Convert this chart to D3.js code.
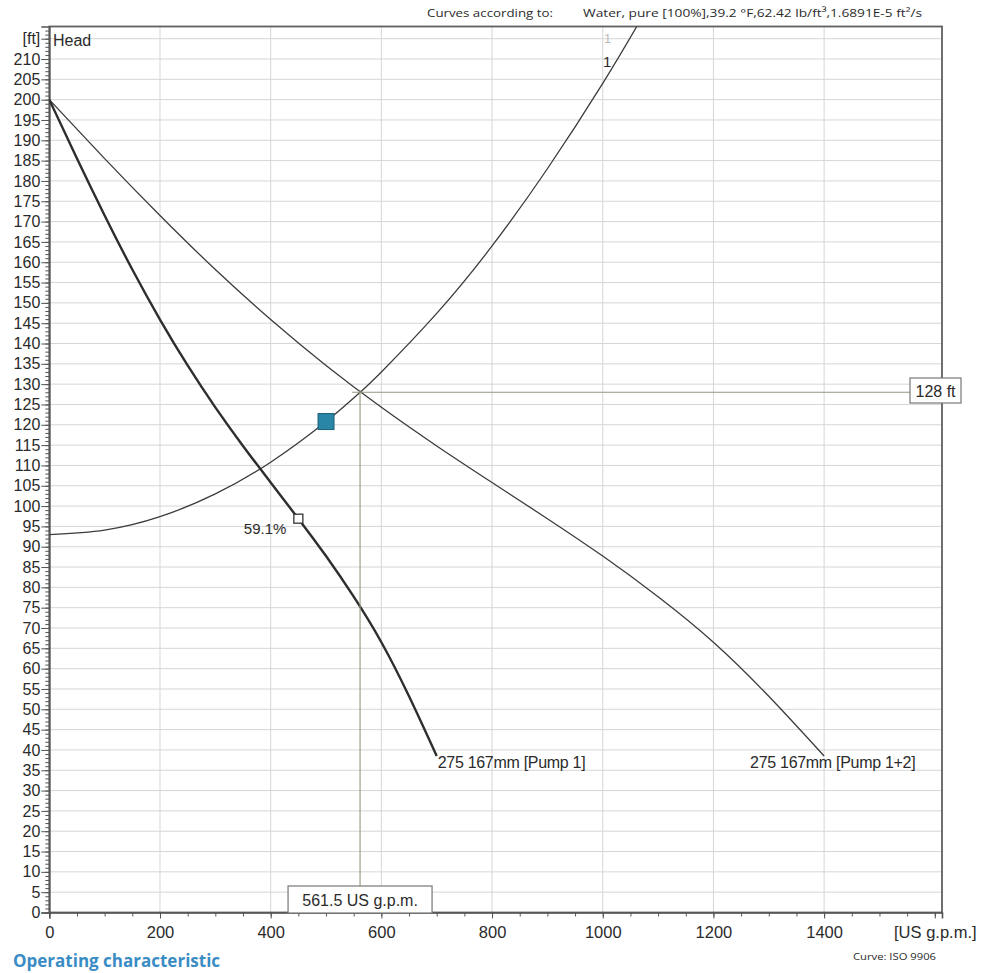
<!DOCTYPE html>
<html>
<head>
<meta charset="utf-8">
<script src="https://cdn.jsdelivr.net/npm/d3@7"></script>
<style>
  body { margin: 0; background: #fff; }
  svg { display: block; }
  text { font-family: "Liberation Sans", Arial, sans-serif; fill: #2b2b2b; }
</style>
</head>
<body>
<svg id="chart" width="981" height="973"></svg>
<script>
// pump curve, single pump (US g.p.m. / ft)
const pump1Flow = [0, 50, 100, 150, 200, 250, 300, 350, 400, 450, 500, 550, 600, 650, 700];
const pump1Head = [200, 185.5, 171.5, 158.2, 145.9, 134.6, 124.3, 114.8, 105.8, 96.9, 87.7, 77.7, 66.5, 53.2, 38.5];

// two pumps in parallel
const pump12Flow = [0, 100, 200, 300, 400, 500, 600, 700, 800, 900, 1000, 1100, 1200, 1300, 1400];
const pump12Head = [200, 185.5, 171.5, 158.2, 145.9, 134.6, 124.3, 114.8, 105.8, 96.9, 87.7, 77.7, 66.5, 53.2, 38.5];

// system curve "1"
const sysFlow = [0, 100, 200, 300, 400, 500, 561.5, 600, 700, 800, 900, 1000, 1070];
const sysHead = [93, 94.1, 97.4, 103, 110.8, 120.8, 128, 133, 147.4, 164, 183, 204, 220];

// duty point / markers
const duty = { flow: 561.5, head: 128 };
const opPoint = { flow: 500, head: 120.8 };
const effPoint = { flow: 450, head: 96.9, label: "59.1%" };

const flowLabels = [0, 200, 400, 600, 800, 1000, 1200, 1400];
const headLabels = d3.range(0, 211, 5);

const svg = d3.select("#chart");
const plotL = 49.3, plotR = 942, plotT = 26.5, plotB = 912.5;

const x = d3.scaleLinear([0, 1613], [plotL, plotR]);
const y = d3.scaleLinear([0, 218], [plotB, plotT]);

// header
svg.append("text").attr("x", 427).attr("y", 17).attr("font-size", 11.5)
  .attr("textLength", 126).attr("lengthAdjust", "spacingAndGlyphs")
  .style("font-family", "'Open Sans', sans-serif")
  .text("Curves according to:");
svg.append("text").attr("x", 583).attr("y", 17).attr("font-size", 11.5)
  .attr("textLength", 339).attr("lengthAdjust", "spacingAndGlyphs")
  .style("font-family", "'Open Sans', sans-serif")
  .text("Water, pure [100%],39.2 °F,62.42 lb/ft³,1.6891E-5 ft²/s");

// grid
const grid = svg.append("g").attr("stroke", "#d6d6d6").attr("stroke-width", 1);
grid.selectAll("line.h").data(d3.range(5, 216, 5)).join("line")
  .attr("x1", plotL).attr("x2", plotR)
  .attr("y1", d => y(d)).attr("y2", d => y(d));
grid.selectAll("line.v").data([200, 400, 600, 800, 1000, 1200, 1400]).join("line")
  .attr("y1", plotT).attr("y2", plotB)
  .attr("x1", d => x(d)).attr("x2", d => x(d));

// frame
svg.append("rect").attr("x", plotL).attr("y", plotT)
  .attr("width", plotR - plotL).attr("height", plotB - plotT)
  .attr("fill", "none").attr("stroke", "#606060").attr("stroke-width", 1.8);

// axes
const yMinor = svg.append("g").attr("transform", `translate(${plotL},0)`)
  .call(d3.axisLeft(y).tickValues(d3.range(0, 218, 1)).tickSize(4).tickFormat(""));
yMinor.select(".domain").remove();
const yAxis = svg.append("g").attr("transform", `translate(${plotL},0)`)
  .call(d3.axisLeft(y).tickValues(headLabels.concat([215])).tickSize(8).tickPadding(1)
    .tickFormat(d => d === 215 ? "[ft]" : d));
yAxis.selectAll("text").attr("font-size", 16).attr("font-family", null).attr("fill", "#2b2b2b");

const xMinor = svg.append("g").attr("transform", `translate(0,${plotB})`)
  .call(d3.axisBottom(x).tickValues(d3.range(0, 1601, 50)).tickSize(4).tickFormat(""));
xMinor.select(".domain").remove();
const xAxis = svg.append("g").attr("transform", `translate(0,${plotB})`)
  .call(d3.axisBottom(x).tickValues(flowLabels.concat([1600])).tickSize(6).tickPadding(8)
    .tickFormat(d => d === 1600 ? "[US g.p.m.]" : d));
xAxis.selectAll("text").attr("font-size", 16.5).attr("font-family", null).attr("fill", "#2b2b2b");

svg.selectAll(".tick line").attr("stroke", "#555");
svg.selectAll(".domain").attr("stroke", "#555").attr("stroke-width", 1.6);

svg.append("text").attr("x", 53).attr("y", 46).attr("font-size", 16).text("Head");

// curves
svg.append("clipPath").attr("id", "plot").append("rect")
  .attr("x", plotL).attr("y", plotT).attr("width", plotR - plotL).attr("height", plotB - plotT);
const curves = svg.append("g").attr("clip-path", "url(#plot)").attr("fill", "none");

const line = d3.line().x(d => x(d[0])).y(d => y(d[1])).curve(d3.curveNatural);

curves.append("path").datum(d3.zip(sysFlow, sysHead))
  .attr("d", line).attr("stroke", "#3c3c3c").attr("stroke-width", 1.3);
curves.append("path").datum(d3.zip(pump12Flow, pump12Head))
  .attr("d", line).attr("stroke", "#3c3c3c").attr("stroke-width", 1.3);
curves.append("path").datum(d3.zip(pump1Flow, pump1Head))
  .attr("d", line).attr("stroke", "#2e2e2e").attr("stroke-width", 2.4);

// duty point lines
const dutyColor = "#8f9a7c";
svg.append("line").attr("x1", x(duty.flow) - 8).attr("x2", 910)
  .attr("y1", y(duty.head)).attr("y2", y(duty.head))
  .attr("stroke", dutyColor).attr("stroke-width", 1.1);
svg.append("line").attr("x1", x(duty.flow)).attr("x2", x(duty.flow))
  .attr("y1", y(duty.head) - 2).attr("y2", 886)
  .attr("stroke", dutyColor).attr("stroke-width", 1.1);

// value boxes
function box(cx, y0, w, h, label) {
  const g = svg.append("g");
  g.append("rect").attr("x", cx - w / 2).attr("y", y0).attr("width", w).attr("height", h)
    .attr("fill", "#fff").attr("stroke", "#777").attr("stroke-width", 1.2);
  g.append("text").attr("x", cx).attr("y", y0 + h / 2 + 6).attr("text-anchor", "middle")
    .attr("font-size", 16).text(label);
}
box(x(duty.flow), 886, 144, 27, duty.flow + " US g.p.m.");
box(935.5, 378, 51, 25, duty.head + " ft");

// operating point marker
svg.append("rect").attr("x", x(opPoint.flow) - 8).attr("y", y(opPoint.head) - 8)
  .attr("width", 16).attr("height", 16)
  .attr("fill", "#2a86a6").attr("stroke", "#1d5f77").attr("stroke-width", 1);

// efficiency marker
svg.append("rect").attr("x", x(effPoint.flow) - 4.5).attr("y", y(effPoint.head) - 4.5)
  .attr("width", 9).attr("height", 9)
  .attr("fill", "#fff").attr("stroke", "#333").attr("stroke-width", 1.3);
svg.append("text").attr("x", x(effPoint.flow) - 12).attr("y", y(effPoint.head) + 15)
  .attr("text-anchor", "end").attr("font-size", 15).text(effPoint.label);

// curve labels
svg.append("text").attr("x", x(700) + 1).attr("y", y(38.5) + 12)
  .attr("font-size", 16).attr("letter-spacing", -0.3).text("275 167mm [Pump 1]");
svg.append("text").attr("x", x(1400) - 74).attr("y", y(38.5) + 12)
  .attr("font-size", 16).attr("letter-spacing", -0.3).text("275 167mm [Pump 1+2]");
svg.append("text").attr("x", 604).attr("y", 43).attr("font-size", 13)
  .style("fill", "#bbb").text("1");
svg.append("text").attr("x", 603).attr("y", 67).attr("font-size", 15).text("1");

// footer
svg.append("text").attr("x", 853).attr("y", 960).attr("font-size", 9.5)
  .attr("textLength", 83).attr("lengthAdjust", "spacingAndGlyphs")
  .style("font-family", "'Open Sans', sans-serif").text("Curve: ISO 9906");
svg.append("text").attr("x", 13).attr("y", 967).attr("font-size", 17)
  .attr("font-weight", "bold").style("fill", "#3a8cc4")
  .style("font-family", "'Open Sans', sans-serif").text("Operating characteristic");
</script>
</body>
</html>
